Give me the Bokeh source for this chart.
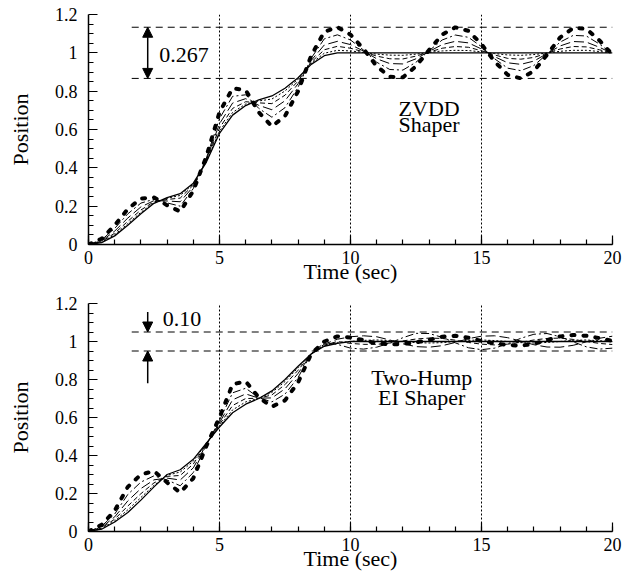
from bokeh.plotting import figure
from bokeh.models import Range1d, FixedTicker, Arrow, NormalHead, Label
from bokeh.layouts import column
from bokeh.embed import file_html
from bokeh.resources import INLINE

# ---------------- data ----------------
T = [0.0, 0.5, 1.0, 1.5, 2.0, 2.5, 3.0, 3.5, 4.0, 4.5, 5.0, 5.5, 6.0, 6.5, 7.0, 7.5,
     8.0, 8.5, 9.0, 9.5, 10.0, 10.5, 11.0, 11.5, 12.0, 12.5, 13.0, 13.5, 14.0, 14.5,
     15.0, 15.5, 16.0, 16.5, 17.0, 17.5, 18.0, 18.5, 19.0, 19.5, 20.0]

# ZVDD shaper responses
zvdd_nominal = [0.000, 0.010, 0.045, 0.100, 0.160, 0.215, 0.245, 0.265, 0.320, 0.430,
                0.580, 0.675, 0.725, 0.755, 0.775, 0.815, 0.870, 0.940, 0.985, 1.000,
                1.000, 1.000, 1.000, 1.000, 1.000, 1.000, 1.000, 1.000, 1.000, 1.000,
                1.000, 1.000, 1.000, 1.000, 1.000, 1.000, 1.000, 1.000, 1.000, 1.000, 1.000]
zvdd_d = [0.000, 0.012, 0.051, 0.109, 0.168, 0.218, 0.241, 0.256, 0.316, 0.433,
          0.591, 0.689, 0.733, 0.749, 0.759, 0.801, 0.863, 0.945, 0.998, 1.013,
          1.010, 1.002, 0.993, 0.988, 0.987, 0.993, 1.002, 1.010, 1.013, 1.012,
          1.005, 0.996, 0.989, 0.987, 0.991, 0.999, 1.008, 1.013, 1.013, 1.007, 0.999]
zvdd_c = [0.000, 0.015, 0.059, 0.121, 0.180, 0.223, 0.235, 0.242, 0.310, 0.438,
          0.608, 0.710, 0.745, 0.739, 0.735, 0.779, 0.853, 0.951, 1.016, 1.034,
          1.024, 1.005, 0.983, 0.969, 0.968, 0.983, 1.004, 1.024, 1.033, 1.029,
          1.011, 0.989, 0.971, 0.967, 0.976, 0.998, 1.020, 1.033, 1.031, 1.016, 0.998]
zvdd_b = [0.000, 0.019, 0.070, 0.138, 0.196, 0.229, 0.227, 0.223, 0.302, 0.444,
          0.630, 0.738, 0.761, 0.726, 0.703, 0.750, 0.839, 0.960, 1.041, 1.060,
          1.043, 1.009, 0.969, 0.944, 0.942, 0.969, 1.007, 1.043, 1.060, 1.052,
          1.020, 0.980, 0.948, 0.940, 0.957, 0.996, 1.036, 1.059, 1.056, 1.029, 0.996]
zvdd_a = [0.000, 0.024, 0.084, 0.160, 0.216, 0.236, 0.217, 0.200, 0.292, 0.451,
          0.657, 0.773, 0.781, 0.710, 0.664, 0.714, 0.821, 0.972, 1.073, 1.094,
          1.067, 1.014, 0.951, 0.913, 0.910, 0.951, 1.011, 1.067, 1.093, 1.081,
          1.032, 0.969, 0.920, 0.907, 0.934, 0.993, 1.056, 1.091, 1.088, 1.046, 0.993]
zvdd_worst = [0.000, 0.030, 0.100, 0.185, 0.240, 0.245, 0.205, 0.172, 0.280, 0.460,
              0.690, 0.815, 0.805, 0.690, 0.616, 0.670, 0.800, 0.985, 1.110, 1.134,
              1.095, 1.020, 0.930, 0.875, 0.872, 0.930, 1.015, 1.095, 1.133, 1.115,
              1.045, 0.955, 0.885, 0.867, 0.905, 0.990, 1.080, 1.130, 1.125, 1.065, 0.990]

# Two-Hump EI shaper responses
ei_nominal = [0.000, 0.012, 0.050, 0.100, 0.165, 0.235, 0.300, 0.325, 0.380, 0.465,
              0.550, 0.625, 0.670, 0.700, 0.740, 0.800, 0.870, 0.935, 0.975, 0.990,
              1.000, 1.000, 1.000, 1.000, 1.000, 1.000, 1.000, 1.000, 1.000, 1.000,
              1.000, 1.000, 1.000, 1.000, 1.000, 1.000, 1.000, 1.000, 1.000, 1.000, 1.000]
ei_d = [0.000, 0.014, 0.056, 0.114, 0.179, 0.243, 0.296, 0.313, 0.370, 0.464,
        0.555, 0.640, 0.682, 0.701, 0.732, 0.789, 0.862, 0.935, 0.978, 0.995,
        1.000, 1.006, 1.008, 1.005, 1.000, 0.994, 0.992, 0.994, 1.000, 1.006,
        1.008, 1.005, 1.000, 0.994, 0.992, 0.995, 1.000, 1.006, 1.008, 1.004, 1.000]
ei_c = [0.000, 0.018, 0.065, 0.134, 0.199, 0.256, 0.290, 0.295, 0.355, 0.461,
        0.563, 0.663, 0.700, 0.701, 0.719, 0.773, 0.849, 0.935, 0.981, 1.000,
        0.990, 0.985, 0.985, 0.992, 1.003, 1.013, 1.018, 1.016, 1.007, 0.995,
        0.986, 0.982, 0.986, 0.996, 1.008, 1.016, 1.018, 1.011, 1.000, 0.990, 0.984]
ei_b = [0.000, 0.022, 0.077, 0.161, 0.226, 0.272, 0.281, 0.271, 0.335, 0.458,
        0.573, 0.693, 0.724, 0.702, 0.703, 0.751, 0.832, 0.935, 0.986, 1.012,
        1.025, 1.030, 1.025, 1.008, 0.988, 0.973, 0.970, 0.978, 0.995, 1.015,
        1.028, 1.030, 1.020, 1.002, 0.983, 0.971, 0.970, 0.980, 0.998, 1.017, 1.028]
ei_a = [0.000, 0.028, 0.092, 0.195, 0.260, 0.293, 0.271, 0.241, 0.310, 0.455,
        0.585, 0.730, 0.754, 0.704, 0.682, 0.723, 0.811, 0.935, 0.993, 0.985,
        0.965, 0.960, 0.970, 0.992, 1.020, 1.043, 1.042, 1.022, 0.993, 0.967,
        0.957, 0.965, 0.988, 1.017, 1.038, 1.042, 1.025, 0.998, 0.972, 0.960, 0.965]
ei_worst = [0.000, 0.035, 0.110, 0.235, 0.300, 0.318, 0.258, 0.205, 0.280, 0.450,
            0.600, 0.775, 0.790, 0.705, 0.657, 0.690, 0.785, 0.935, 1.000, 1.027,
            1.021, 1.007, 0.990, 0.985, 0.987, 0.995, 1.009, 1.025, 1.030, 1.020,
            1.003, 0.990, 0.982, 0.978, 0.988, 1.007, 1.027, 1.034, 1.030, 1.018, 1.003]

X_TICKS = [0, 5, 10, 15, 20]
X_MINOR = [0, 1, 2, 3, 4, 5, 6, 7, 8, 9, 10, 11, 12, 13, 14, 15, 16, 17, 18, 19, 20]
Y_TICKS = [0, 0.2, 0.4, 0.6, 0.8, 1.0, 1.2]
Y_TICK_LABELS = ["0", "0.2", "0.4", "0.6", "0.8", "1", "1.2"]
Y_MINOR = [i * 0.05 for i in range(25)]
GRID_X = [5, 10, 15, 20]

ZVDD_BAND = [0.8665, 1.1335]   # 0.267 spread
EI_BAND = [0.95, 1.05]         # 0.10 spread

FONT = "Liberation Serif"


def make_fig(height, border_top, border_bottom):
    p = figure(width=636, height=height, x_range=Range1d(0, 20), y_range=Range1d(0, 1.2),
               output_backend="svg", toolbar_location=None,
               min_border_left=88, min_border_right=24,
               min_border_top=border_top, min_border_bottom=border_bottom)
    p.outline_line_color = None
    p.background_fill_color = "white"
    p.border_fill_color = "white"
    p.ygrid.visible = False
    p.xgrid.ticker = FixedTicker(ticks=GRID_X)
    p.xgrid.grid_line_color = "black"
    p.xgrid.grid_line_dash = "2 2"
    p.xgrid.grid_line_width = 1
    p.xgrid.grid_line_alpha = 1.0

    p.xaxis.ticker = FixedTicker(ticks=X_TICKS, minor_ticks=X_MINOR)
    p.yaxis.ticker = FixedTicker(ticks=Y_TICKS, minor_ticks=Y_MINOR)
    p.yaxis.major_label_overrides = {t: s for t, s in zip(Y_TICKS, Y_TICK_LABELS)}
    for ax in (p.xaxis, p.yaxis):
        ax.axis_line_color = "black"
        ax.axis_line_width = 1.5
        ax.major_tick_in = 9
        ax.major_tick_out = 0
        ax.minor_tick_in = 5
        ax.minor_tick_out = 0
        ax.major_tick_line_color = "black"
        ax.minor_tick_line_color = "black"
        ax.major_tick_line_width = 1.2
        ax.minor_tick_line_width = 1.2
        ax.major_label_text_font = FONT
        ax.major_label_text_font_size = "18px"
        ax.major_label_text_color = "black"
        ax.axis_label_text_font = FONT
        ax.axis_label_text_font_size = "22px"
        ax.axis_label_text_font_style = "normal"
        ax.axis_label_text_color = "black"
    p.xaxis.axis_label = "Time (sec)"
    p.xaxis.major_label_standoff = 6
    p.xaxis.axis_label_standoff = -8
    p.yaxis.axis_label = "Position"
    p.yaxis.major_label_standoff = 11
    p.yaxis.axis_label_standoff = 19
    return p


def draw_curves(p, nominal, d, c, b, a, worst):
    p.line(T, d, line_color="black", line_width=1, line_dash="2 2")
    p.line(T, c, line_color="black", line_width=1, line_dash="5 3")
    p.line(T, b, line_color="black", line_width=1, line_dash="10 4")
    p.line(T, a, line_color="black", line_width=1, line_dash="8 3 2 3")
    p.line(T, nominal, line_color="black", line_width=1.3)
    p.line(T, worst, line_color="black", line_width=4, line_dash="3 9", line_cap="round")


def band(p, levels):
    p.segment(x0=[1.65, 1.65], y0=levels, x1=[20, 20], y1=levels,
              line_color="black", line_width=1, line_dash="7 5")


def label(p, x, y, text, align):
    p.add_layout(Label(x=x, y=y, text=text, text_font=FONT, text_font_size="22px",
                       text_baseline="middle", text_align=align, text_color="black"))


# ---------------- top: ZVDD ----------------
p1 = make_fig(287, 14, 43)
band(p1, ZVDD_BAND)
draw_curves(p1, zvdd_nominal, zvdd_d, zvdd_c, zvdd_b, zvdd_a, zvdd_worst)
p1.add_layout(Arrow(start=NormalHead(size=10, fill_color="black", line_color="black"),
                    end=NormalHead(size=10, fill_color="black", line_color="black"),
                    x_start=2.26, y_start=ZVDD_BAND[0], x_end=2.26, y_end=ZVDD_BAND[1],
                    line_color="black", line_width=1.5))
label(p1, 2.7, 0.991, "0.267", "left")
label(p1, 13.0, 0.712, "ZVDD", "center")
label(p1, 13.0, 0.626, "Shaper", "center")

# ---------------- bottom: Two-Hump EI ----------------
p2 = make_fig(287, 16, 43)
band(p2, EI_BAND)
draw_curves(p2, ei_nominal, ei_d, ei_c, ei_b, ei_a, ei_worst)
p2.add_layout(Arrow(end=NormalHead(size=10, fill_color="black", line_color="black"),
                    x_start=2.26, y_start=1.155, x_end=2.26, y_end=EI_BAND[1],
                    line_color="black", line_width=1.5))
p2.add_layout(Arrow(end=NormalHead(size=10, fill_color="black", line_color="black"),
                    x_start=2.26, y_start=0.78, x_end=2.26, y_end=EI_BAND[0],
                    line_color="black", line_width=1.5))
label(p2, 2.83, 1.119, "0.10", "left")
label(p2, 12.72, 0.812, "Two-Hump", "center")
label(p2, 12.72, 0.705, "EI Shaper", "center")

layout = column(p1, p2)
open("out.html", "w").write(file_html(layout, INLINE))
